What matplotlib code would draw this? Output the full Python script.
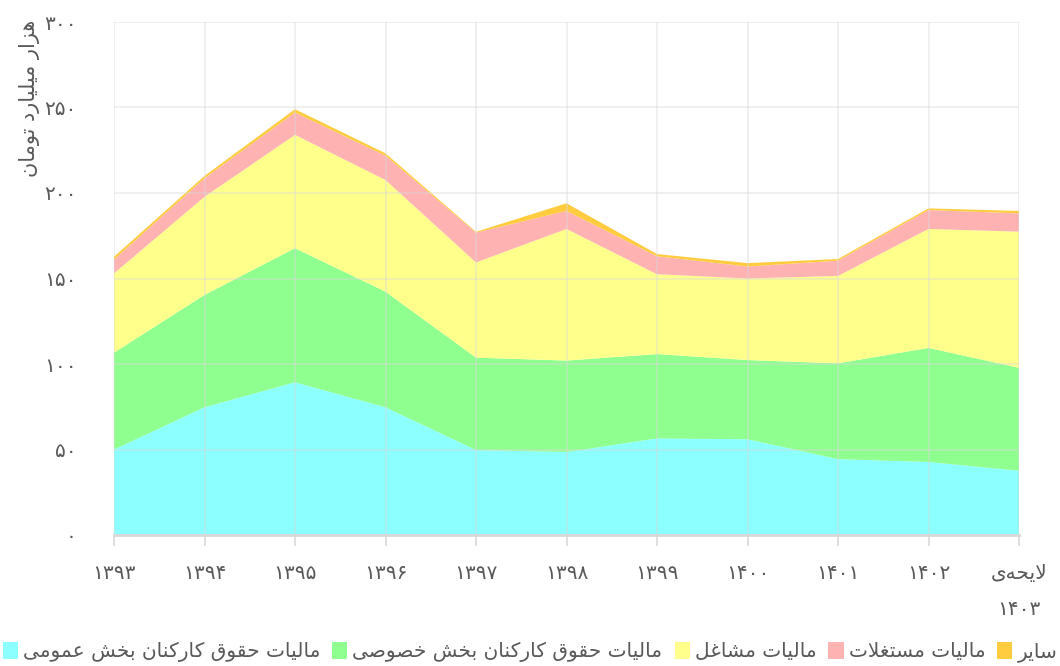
import matplotlib
matplotlib.use("Agg")
import matplotlib.pyplot as plt
from matplotlib.patches import Patch

# --- data (هزار میلیارد تومان) ---
years = ["1393", "1394", "1395", "1396", "1397", "1398", "1399", "1400", "1401", "1402", "1403"]
general = [50.0, 74.7, 89.3, 74.7, 49.7, 48.5, 56.5, 56.0, 44.4, 42.7, 37.6]
private = [56.6, 65.7, 78.4, 67.6, 54.0, 53.5, 49.3, 46.3, 56.0, 66.7, 60.2]
jobs = [46.4, 57.4, 66.3, 65.3, 55.7, 77.0, 46.7, 47.7, 51.1, 69.6, 79.6]
rent = [8.0, 10.8, 13.0, 14.2, 17.4, 10.5, 10.5, 7.0, 8.9, 11.0, 10.7]
other = [1.7, 1.4, 2.0, 1.4, 0.5, 4.5, 1.3, 2.0, 1.0, 1.0, 1.4]

series_names = [
    "مالیات حقوق کارکنان بخش عمومی",
    "مالیات حقوق کارکنان بخش خصوصی",
    "مالیات مشاغل",
    "مالیات مستغلات",
    "سایر",
]
colors = ["#8cffff", "#8fff8f", "#ffff8c", "#ffb2b2", "#ffcc40"]
y_ticks = [0, 50, 100, 150, 200, 250, 300]
last_label = "لایحه‌ی"
y_title = "هزار میلیارد تومان"

# --- simple Persian shaping (matplotlib has no complex text layout) ---
FORMS = {
    "ا": ("\uFE8D", "\uFE8E", None, None),
    "ب": ("\uFE8F", "\uFE90", "\uFE91", "\uFE92"),
    "ت": ("\uFE95", "\uFE96", "\uFE97", "\uFE98"),
    "ح": ("\uFEA1", "\uFEA2", "\uFEA3", "\uFEA4"),
    "خ": ("\uFEA5", "\uFEA6", "\uFEA7", "\uFEA8"),
    "د": ("\uFEA9", "\uFEAA", None, None),
    "ر": ("\uFEAD", "\uFEAE", None, None),
    "ز": ("\uFEAF", "\uFEB0", None, None),
    "س": ("\uFEB1", "\uFEB2", "\uFEB3", "\uFEB4"),
    "ش": ("\uFEB5", "\uFEB6", "\uFEB7", "\uFEB8"),
    "ص": ("\uFEB9", "\uFEBA", "\uFEBB", "\uFEBC"),
    "ع": ("\uFEC9", "\uFECA", "\uFECB", "\uFECC"),
    "غ": ("\uFECD", "\uFECE", "\uFECF", "\uFED0"),
    "ق": ("\uFED5", "\uFED6", "\uFED7", "\uFED8"),
    "ل": ("\uFEDD", "\uFEDE", "\uFEDF", "\uFEE0"),
    "م": ("\uFEE1", "\uFEE2", "\uFEE3", "\uFEE4"),
    "ن": ("\uFEE5", "\uFEE6", "\uFEE7", "\uFEE8"),
    "ه": ("\uFEE9", "\uFEEA", "\uFEEB", "\uFEEC"),
    "و": ("\uFEED", "\uFEEE", None, None),
    "ی": ("\uFBFC", "\uFBFD", "\uFBFE", "\uFBFF"),
    "ک": ("\uFB8E", "\uFB8F", "\uFB90", "\uFB91"),
    "LA": ("\uFEFB", "\uFEFC", None, None),
}


def shape(text):
    tokens = []
    i = 0
    while i < len(text):
        if text[i] == "ل" and i + 1 < len(text) and text[i + 1] == "ا":
            tokens.append("LA")
            i += 2
        else:
            tokens.append(text[i])
            i += 1
    out = []
    for k, t in enumerate(tokens):
        if t not in FORMS:
            if t != "\u200c":
                out.append(t)
            continue
        prev = tokens[k - 1] if k > 0 else None
        nxt = tokens[k + 1] if k + 1 < len(tokens) else None
        join_prev = prev in FORMS and FORMS[prev][2] is not None
        join_next = FORMS[t][2] is not None and nxt in FORMS
        iso, fin, ini, med = FORMS[t]
        if join_prev and join_next:
            out.append(med)
        elif join_prev:
            out.append(fin)
        elif join_next:
            out.append(ini)
        else:
            out.append(iso)
    return "".join(reversed(out))


def fa_digits(s):
    return str(s).translate(str.maketrans("0123456789", "۰۱۲۳۴۵۶۷۸۹"))


plt.rcParams["font.family"] = ["DejaVu Sans"]
text_color = "#595959"
grid_color = "#d9d9d9"

fig = plt.figure(figsize=(10.6, 6.66), dpi=100)
ax = fig.add_axes([114 / 1060, 1 - 535 / 666, 905 / 1060, 513 / 666])

x = list(range(len(years)))
ax.stackplot(x, general, private, jobs, rent, other, colors=colors, zorder=2)

ax.set_xlim(0, len(years) - 1)
ax.set_ylim(0, 300)
ax.set_yticks(y_ticks)
ax.set_yticklabels([fa_digits(v) for v in y_ticks])
xlabels = [fa_digits(y) for y in years[:-1]] + [shape(last_label) + "\n" + fa_digits(years[-1])]
ax.set_xticks(x)
ax.set_xticklabels(xlabels, linespacing=2.1)

ax.grid(True, color=grid_color, linewidth=1.2, alpha=0.45, zorder=3)
ax.set_axisbelow(False)
for side in ["top", "right", "left"]:
    ax.spines[side].set_visible(False)
ax.spines["bottom"].set_color(grid_color)
ax.spines["bottom"].set_linewidth(2)
ax.spines["bottom"].set_zorder(4)
ax.tick_params(axis="y", length=0, pad=27, labelsize=14.5, labelcolor=text_color)
ax.tick_params(axis="x", length=8, width=1.2, color=grid_color, pad=13,
               labelsize=14.5, labelcolor=text_color)

fig.text(30 / 1060, 1 - 20 / 666, shape(y_title), rotation=90, va="top", ha="center",
         fontsize=15, color=text_color)

handles = [Patch(facecolor=c, edgecolor="none") for c in colors]
fig.legend(handles, [shape(n) for n in series_names], loc="center",
           bbox_to_anchor=(0.5, 1 - 652 / 666), ncol=5, frameon=False,
           fontsize=14.5, handlelength=0.75, handleheight=0.9, handletextpad=0.25,
           columnspacing=0.6, labelcolor=text_color, borderpad=0.2)

fig.savefig("out.png", dpi=100)
